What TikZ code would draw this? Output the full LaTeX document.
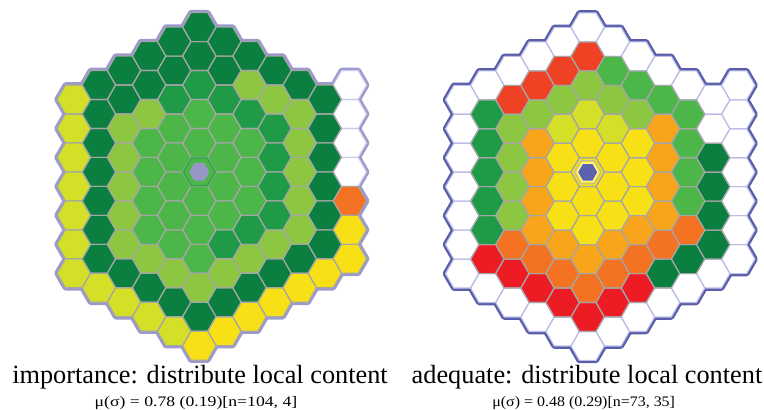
\documentclass[tikz,border=0pt]{standalone}
\usepackage{fontspec}
\setmainfont{Liberation Serif}
\definecolor{cDG}{HTML}{0B7F3F}
\definecolor{cG2}{HTML}{1F9B48}
\definecolor{cMG}{HTML}{4CB649}
\definecolor{cOL}{HTML}{8DC641}
\definecolor{cYG}{HTML}{D4DF27}
\definecolor{cY}{HTML}{F8E016}
\definecolor{cO}{HTML}{F37322}
\definecolor{cOA}{HTML}{F9A51B}
\definecolor{cR1}{HTML}{EF4123}
\definecolor{cR}{HTML}{ED1C24}
\definecolor{cW}{HTML}{FFFFFF}
\definecolor{outA}{HTML}{9C99CD}
\definecolor{outB}{HTML}{5A5EA8}
\definecolor{lineWA}{HTML}{C8C8E8}
\definecolor{lineWB}{HTML}{B8BCE6}
\definecolor{lineC}{HTML}{A6A6A6}
\definecolor{ctrA}{HTML}{9896C8}
\definecolor{ctrB}{HTML}{5A62AD}
\def\hR{16.72}
\def\iswW{}
\newcommand\hexr[3]{(#1,#2) +(0:#3) -- +(60:#3) -- +(120:#3) -- +(180:#3) -- +(240:#3) -- +(300:#3) -- cycle}
\newcommand\gridpass[4]{%
  \foreach \gq/\gr/\gcs in #3 {%
    \foreach \gc [count=\gi from 0] in \gcs {%
      \pgfmathsetmacro\px{#1+25.1*\gq}%
      \pgfmathsetmacro\py{#2+28.96*(\gr+\gi+0.5*\gq)}%
      #4%
    }%
  }%
}
\def\dataA{%
 -5/0/{YG,YG,YG,YG,YG,YG,YG},%
 -4/-1/{DG,DG,DG,DG,DG,DG,DG,YG},%
 -3/-2/{DG,DG,OL,OL,OL,OL,OL,DG,YG},%
 -2/-3/{DG,DG,OL,MG,MG,MG,MG,OL,DG,YG},%
 -1/-4/{DG,DG,G2,MG,MG,MG,MG,MG,OL,DG,YG},%
 0/-5/{DG,DG,G2,MG,MG,MG,MG,MG,MG,OL,DG,Y},%
 1/-5/{DG,DG,G2,MG,MG,MG,MG,G2,OL,DG,Y},%
 2/-5/{DG,OL,G2,MG,MG,MG,G2,OL,DG,Y},%
 3/-5/{DG,OL,G2,G2,G2,G2,OL,DG,Y},%
 4/-5/{DG,OL,OL,OL,OL,OL,DG,Y},%
 5/-5/{DG,DG,DG,DG,DG,DG,Y},%
 6/-6/{W,W,W,W,O,Y,Y}}
\def\dataB{%
 -5/0/{W,W,W,W,W,W,W},%
 -4/-1/{W,G2,G2,G2,G2,G2,R,W},%
 -3/-2/{W,R1,OL,OL,OL,OL,O,R,W},%
 -2/-3/{W,R1,OL,OA,OA,OA,OA,O,R,W},%
 -1/-4/{W,R1,OL,YG,Y,Y,Y,OA,O,R,W},%
 0/-5/{W,R1,OL,YG,Y,Y,Y,Y,OA,O,R,W},%
 1/-5/{W,MG,OL,YG,Y,Y,Y,OA,O,R,W},%
 2/-5/{W,MG,OL,Y,Y,Y,OA,O,R,W},%
 3/-5/{W,MG,OA,OA,OA,OA,O,DG,W},%
 4/-5/{W,MG,MG,MG,MG,O,DG,W},%
 5/-5/{W,W,DG,DG,DG,DG,W},%
 6/-6/{W,W,W,W,W,W,W}}
\tikzset{
  outlineA/.style={draw=outA,line width=5.6pt,line join=round},
  outlineB/.style={draw=outB,line width=5.6pt,line join=round},
  thinline/.style={draw=lineC,line width=1.1pt,line join=round},
  title/.style={anchor=base,inner sep=0pt,font=\fontsize{26.3}{30}\selectfont},
  subtitle/.style={anchor=base,inner sep=0pt,font=\fontsize{14.5}{16}\selectfont}
}
\begin{document}
\begin{tikzpicture}[x=1pt,y=-1pt]
\useasboundingbox (0,0) rectangle (764,410);
% ---------- left grid ----------
\def\ax{199.3}\def\ay{171.9}
\gridpass{\ax}{\ay}{\dataA}{\draw[outlineA] \hexr{\px}{\py}{\hR};}
\gridpass{\ax}{\ay}{\dataA}{\fill[fill=c\gc] \hexr{\px}{\py}{\hR};}
\gridpass{\ax}{\ay}{\dataA}{\ifcsname isw\gc\endcsname\draw[draw=lineWA,line width=1.1pt] \hexr{\px}{\py}{\hR};\fi}
\gridpass{\ax}{\ay}{\dataA}{\ifcsname isw\gc\endcsname\else\draw[thinline] \hexr{\px}{\py}{\hR};\fi}
\draw[draw=cG2!70!cMG,line width=1.3pt] \hexr{\ax}{\ay}{16};
\fill[ctrA] \hexr{\ax}{\ay}{10};
% ---------- right grid ----------
\def\bx{587.7}\def\by{172.2}
\gridpass{\bx}{\by}{\dataB}{\draw[outlineB] \hexr{\px}{\py}{\hR};}
\gridpass{\bx}{\by}{\dataB}{\fill[fill=c\gc] \hexr{\px}{\py}{\hR};}
\gridpass{\bx}{\by}{\dataB}{\ifcsname isw\gc\endcsname\draw[draw=lineWB,line width=1.1pt] \hexr{\px}{\py}{\hR};\fi}
\gridpass{\bx}{\by}{\dataB}{\ifcsname isw\gc\endcsname\else\draw[thinline] \hexr{\px}{\py}{\hR};\fi}
\draw[draw=lineC!80,line width=0.9pt] \hexr{\bx}{\by}{13.4};
\fill[ctrB,draw=yellow!40!white,line width=1.4pt] \hexr{\bx}{\by}{10.5};
% ---------- captions ----------
\node[title] (titleA) at (200,383.3) {importance: distribute local content};
\node[title] (titleB) at (587,383.3) {adequate: distribute local content};
\node[subtitle,xscale=1.22] (subA) at (196,406.8) {μ(σ) = 0.78 (0.19)[n=104, 4]};
\node[subtitle,xscale=1.1] (subB) at (583.7,406.8) {μ(σ) = 0.48 (0.29)[n=73, 35]};
\end{tikzpicture}
\end{document}
